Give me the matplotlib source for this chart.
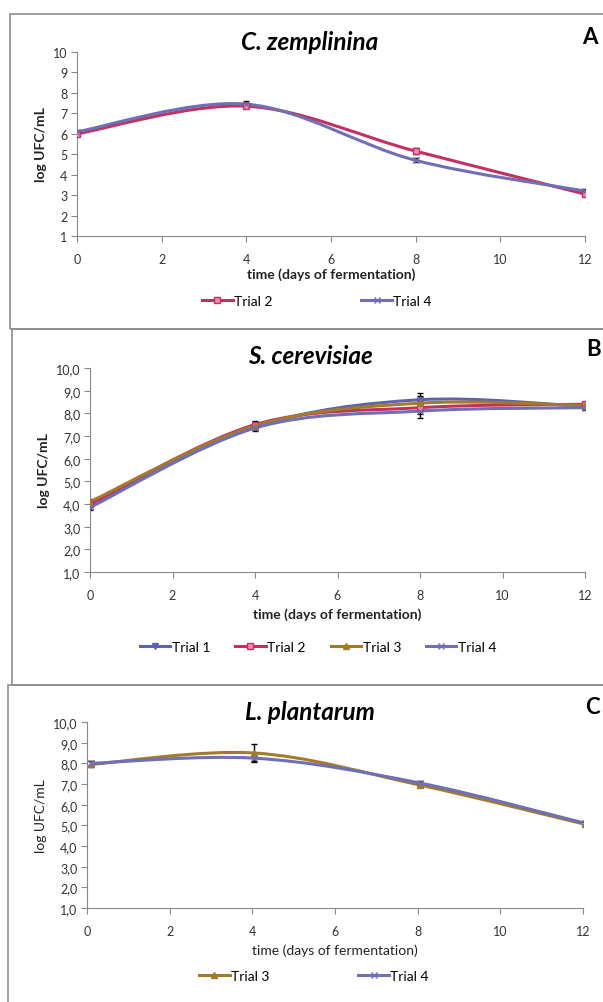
import numpy as np
import matplotlib
matplotlib.use('Agg')
import matplotlib.pyplot as plt
from matplotlib.path import Path
from matplotlib.patches import PathPatch, Rectangle
from matplotlib.lines import Line2D

plt.rcParams['font.family'] = ['Lato', 'DejaVu Sans']

# sampling days
days_a = [0, 4, 8, 12]
days_b = [0, 4, 8, 12]
days_c = [0.1, 4.05, 8.05, 12.05]

# panel A - C. zemplinina
a_trial2 = [6.0, 7.35, 5.15, 3.05]
a_trial4 = [6.1, 7.45, 4.7, 3.2]
a_err2 = [0.1, 0.1, 0.15, 0.1]
a_err4 = [0.1, 0.15, 0.1, 0.1]

# panel B - S. cerevisiae
b_trial1 = [3.9, 7.4, 8.6, 8.3]
b_trial2 = [4.0, 7.5, 8.25, 8.4]
b_trial3 = [4.1, 7.45, 8.45, 8.35]
b_trial4 = [3.85, 7.35, 8.1, 8.25]
b_err = [0.1, 0.15, 0.3, 0.1]

# panel C - L. plantarum
c_trial3 = [7.95, 8.5, 6.95, 5.05]
c_trial4 = [8.0, 8.25, 7.05, 5.1]
c_err3 = [0.15, 0.45, 0.1, 0.1]
c_err4 = [0.1, 0.15, 0.1, 0.1]

colors = {'Trial 1': '#5f63ad', 'Trial 2': '#c3305f',
          'Trial 3': '#a37a2c', 'Trial 4': '#6f6fb6'}
markers = {'Trial 1': 'v', 'Trial 2': 's', 'Trial 3': '^', 'Trial 4': 'x'}

W, H = 603, 1003
fig = plt.figure(figsize=(W / 100, H / 100), dpi=100)


def smooth_path(x, y):
    # excel-style smoothed line: catmull-rom segments as cubic beziers
    pts = np.column_stack([np.asarray(x, float), np.asarray(y, float)])
    verts = [pts[0]]
    codes = [Path.MOVETO]
    n = len(pts)
    for i in range(n - 1):
        p0 = pts[i - 1] if i > 0 else pts[i]
        p1 = pts[i]
        p2 = pts[i + 1]
        p3 = pts[i + 2] if i + 2 < n else pts[i + 1]
        verts += [p1 + (p2 - p0) / 6.0, p2 - (p3 - p1) / 6.0, p2]
        codes += [Path.CURVE4] * 3
    return Path(verts, codes)


def panel_box(x0, y0, x1, y1):
    fig.patches.append(Rectangle((x0 / W, 1 - y1 / H), (x1 - x0) / W, (y1 - y0) / H,
                                 transform=fig.transFigure, fill=False,
                                 edgecolor='#8c8c8c', linewidth=1.2))


def face(name):
    return '#f08ab0' if name == 'Trial 2' else colors[name]


def make_panel(rect, x, series, errs, title, title_y, letter, letter_xy, yfmt, bold,
               leg_x, leg_y, leg_space, xpad):
    l, t, r, b = rect
    ax = fig.add_axes([l / W, 1 - b / H, (r - l) / W, (b - t) / H])
    for name, vals in series.items():
        c = colors[name]
        ax.add_patch(PathPatch(smooth_path(x, vals), facecolor='none',
                               edgecolor=c, linewidth=2.2, zorder=3))
        ax.errorbar(x, vals, yerr=errs[name], fmt='none', ecolor='black',
                    elinewidth=1.0, capsize=2.5, capthick=1.0, zorder=2)
        ax.plot(x, vals, linestyle='none', marker=markers[name], markersize=4,
                color=c, markerfacecolor=face(name), zorder=4)
    ax.set_xlim(0, 12)
    ax.set_ylim(1, 10)
    ax.set_xticks(range(0, 13, 2))
    ax.set_yticks(range(1, 11))
    if yfmt:
        ax.set_yticklabels([f'{v},0' for v in range(1, 11)])
    for s in ['top', 'right']:
        ax.spines[s].set_visible(False)
    for s in ['left', 'bottom']:
        ax.spines[s].set_color('#888888')
    ax.tick_params(direction='out', length=4, color='#888888', labelsize=9,
                   labelcolor='#333333', pad=3)
    ax.tick_params(axis='x', pad=8)
    weight = 'bold' if bold else 'normal'
    ax.set_xlabel('time (days of fermentation)', fontsize=10, fontweight=weight,
                  color='#222222', labelpad=xpad)
    ax.set_ylabel('log UFC/mL', fontsize=10, color='#222222', fontweight=weight,
                  labelpad=4)
    fig.text(310 / W, 1 - title_y / H, title, fontsize=17.5, fontweight='bold',
             fontstyle='italic', ha='center', va='center')
    fig.text(letter_xy[0] / W, 1 - letter_xy[1] / H, letter, fontsize=16,
             fontweight='bold', ha='center', va='center')
    handles = [Line2D([], [], color=colors[n], linewidth=2.2, marker=markers[n],
                      markersize=4, markerfacecolor=face(n))
               for n in series]
    fig.legend(handles, list(series.keys()), loc='center',
               bbox_to_anchor=(leg_x / W, 1 - leg_y / H), ncol=len(series),
               frameon=False, fontsize=10, handlelength=2.2, handletextpad=0.1,
               columnspacing=leg_space)
    return ax


panel_box(10, 15, 620, 330)
panel_box(12, 330, 620, 686)
panel_box(8, 686, 620, 1020)

make_panel((77, 53, 585, 237), days_a,
           {'Trial 2': a_trial2, 'Trial 4': a_trial4},
           {'Trial 2': a_err2, 'Trial 4': a_err4},
           'C. zemplinina', 42, 'A', (590, 38), False, True, 317, 302, 6.4, 2)

make_panel((90, 369, 585, 573), days_b,
           {'Trial 1': b_trial1, 'Trial 2': b_trial2, 'Trial 3': b_trial3, 'Trial 4': b_trial4},
           {k: b_err for k in ['Trial 1', 'Trial 2', 'Trial 3', 'Trial 4']},
           'S. cerevisiae', 357, 'B', (594, 350), True, True, 318, 648, 1.8, 5)

make_panel((87, 723, 583, 909), days_c,
           {'Trial 3': c_trial3, 'Trial 4': c_trial4},
           {'Trial 3': c_err3, 'Trial 4': c_err4},
           'L. plantarum', 713, 'C', (592, 707), True, False, 314, 977, 6.4, 5)

fig.savefig('out.png', dpi=100)
